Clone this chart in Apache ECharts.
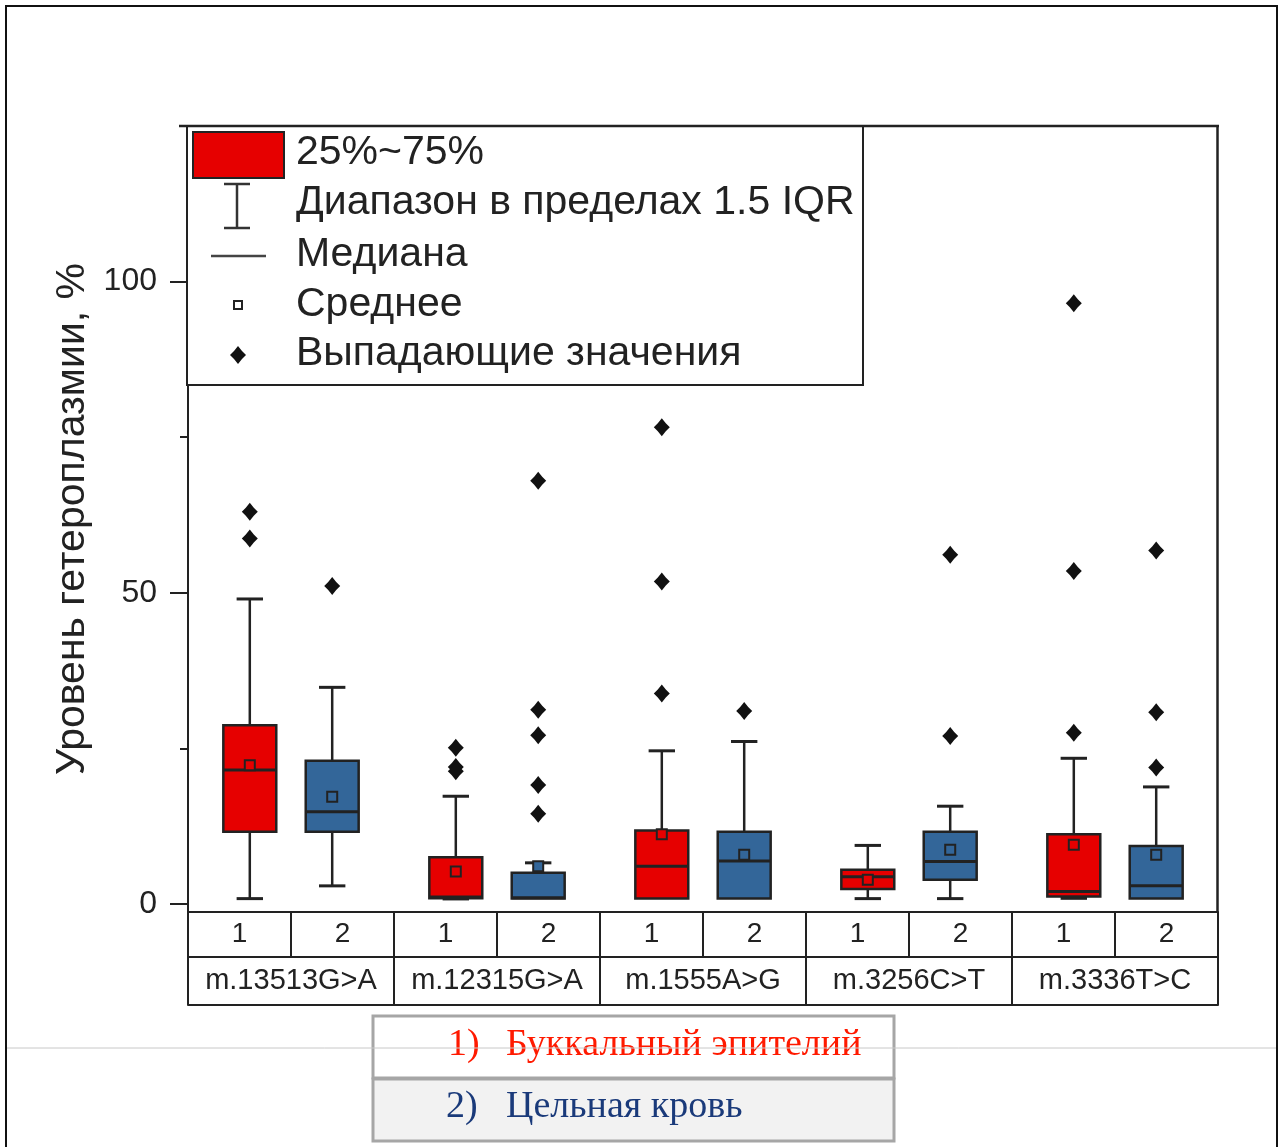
<!DOCTYPE html>
<html>
<head>
<meta charset="utf-8">
<script src="https://cdn.jsdelivr.net/npm/echarts@6/dist/echarts.min.js"></script>
<style>
  html, body { margin: 0; padding: 0; background: #fff; }
  #chart { width: 1284px; height: 1147px; }
</style>
</head>
<body>
<div id="chart"></div>
<script>
// Mutations (x-axis groups) and sample type columns
const genes = ['m.13513G>A', 'm.12315G>A', 'm.1555A>G', 'm.3256C>T', 'm.3336T>C'];
const sampleLabels = ['1', '2'];

// Box statistics per group: [groupIndex, lowerWhisker, Q1, median, Q3, upperWhisker, mean]
const buccalStats = [
  [0, 0.85, 11.6, 21.5, 28.7, 49.0, 22.3],
  [1, 0.8, 0.9, 1.1, 7.5, 17.3, 5.2],
  [2, 0.85, 0.85, 6.05, 11.8, 24.6, 11.2],
  [3, 0.85, 2.4, 4.35, 5.5, 9.4, 3.9],
  [4, 0.9, 1.2, 2.0, 11.2, 23.4, 9.5]
];
const bloodStats = [
  [0, 2.9, 11.6, 14.8, 23.0, 34.8, 17.2],
  [1, 0.85, 0.85, 1.0, 5.0, 6.6, 6.05],
  [2, 0.85, 0.85, 6.9, 11.6, 26.1, 7.9],
  [3, 0.85, 3.9, 6.8, 11.6, 15.7, 8.7],
  [4, 0.85, 0.85, 2.9, 9.3, 18.8, 7.9]
];

// Outliers: [groupIndex, value]
const buccalOutliers = [
  [0, 63.0], [0, 58.7],
  [1, 25.1], [1, 22.0], [1, 21.3],
  [2, 76.6], [2, 51.8], [2, 33.8],
  [4, 96.5], [4, 53.5], [4, 27.5]
];
const bloodOutliers = [
  [0, 51.1],
  [1, 68.0], [1, 31.2], [1, 27.1], [1, 19.1], [1, 14.5],
  [2, 31.0],
  [3, 56.1], [3, 27.0],
  [4, 56.8], [4, 30.8], [4, 21.9]
];

const yMajorTicks = [0, 50, 100];
const yMinorTicks = [25, 75];

const legendLabels = ['25%~75%', 'Диапазон в пределах 1.5 IQR', 'Медиана', 'Среднее', 'Выпадающие значения'];
const sampleNames = ['Буккальный эпителий', 'Цельная кровь'];

const RED = '#e60000';
const BLUE = '#336699';
const INK = '#222222';
const SANS = "'Liberation Sans', Arial, sans-serif";
const SERIF = "'Liberation Serif', 'Times New Roman', serif";

const BOX_FRAC = 0.257;   // box width as a fraction of a group's band
const CAP_FRAC = 0.128;   // whisker cap width
const SHIFT = 0.2;        // offset of each box from the group centre

function boxRenderer(color, side) {
  return function (params, api) {
    const g = api.value(0);
    const band = api.size([1, 0])[0];
    const cx = api.coord([g, 0])[0] + side * SHIFT * band;
    const py = v => api.coord([g, v])[1];
    const half = BOX_FRAC * band / 2;
    const capHalf = CAP_FRAC * band / 2;
    const lo = api.value(1), q1 = api.value(2), med = api.value(3),
          q3 = api.value(4), hi = api.value(5), mean = api.value(6);
    const line = (x1, y1, x2, y2, w) => ({
      type: 'line', shape: { x1, y1, x2, y2 },
      style: { stroke: INK, lineWidth: w || 2.5 }
    });
    const kids = [];
    if (hi > q3) {
      kids.push(line(cx, py(q3), cx, py(hi)));
      kids.push(line(cx - capHalf, py(hi), cx + capHalf, py(hi), 3));
    }
    if (lo < q1 - 0.05) {
      kids.push(line(cx, py(q1), cx, py(lo)));
      kids.push(line(cx - capHalf, py(lo), cx + capHalf, py(lo), 3));
    }
    kids.push({
      type: 'rect',
      shape: { x: cx - half, y: py(q3), width: 2 * half, height: py(q1) - py(q3) },
      style: { fill: color, stroke: INK, lineWidth: 2.5 }
    });
    kids.push(line(cx - half, py(med), cx + half, py(med), 3));
    kids.push({
      type: 'rect',
      shape: { x: cx - 5, y: py(mean) - 5, width: 10, height: 10 },
      style: { fill: color, stroke: INK, lineWidth: 2 }
    });
    return { type: 'group', children: kids };
  };
}

// four-pointed outlier marker
function starPoints(x, y) {
  return [[x, y - 9], [x + 4, y - 4], [x + 8, y], [x + 4, y + 4],
          [x, y + 9], [x - 4, y + 4], [x - 8, y], [x - 4, y - 4]];
}

function outlierRenderer(side) {
  return function (params, api) {
    const g = api.value(0);
    const band = api.size([1, 0])[0];
    const p = api.coord([g, api.value(1)]);
    return {
      type: 'polygon',
      shape: { points: starPoints(p[0] + side * SHIFT * band, p[1]) },
      style: { fill: '#111' }
    };
  };
}

const chart = echarts.init(document.getElementById('chart'));

const cols = [];
genes.forEach(() => sampleLabels.forEach(s => cols.push(s)));

const axisLineStyle = { color: INK, width: 2 };

const legendX = 296;
const legendRows = [153, 203, 255, 305, 354];

const graphics = [
  // page frame
  { type: 'rect', shape: { x: 6, y: 6, width: 1271, height: 1170 },
    style: { fill: 'none', stroke: '#111', lineWidth: 2 }, z: 1 },
  // plot frame: top and right
  { type: 'line', shape: { x1: 179, y1: 126, x2: 1219, y2: 126 },
    style: { stroke: INK, lineWidth: 2.5 }, z: 50 },
  { type: 'line', shape: { x1: 1217.5, y1: 126, x2: 1217.5, y2: 912 },
    style: { stroke: INK, lineWidth: 2.5 }, z: 50 },
  // legend box
  { type: 'rect', shape: { x: 187, y: 126, width: 676, height: 259 },
    style: { fill: '#fff', stroke: INK, lineWidth: 2 }, z: 40 },
  { type: 'rect', shape: { x: 193, y: 132, width: 91, height: 46 },
    style: { fill: RED, stroke: INK, lineWidth: 2 }, z: 41 },
  { type: 'line', shape: { x1: 237, y1: 184, x2: 237, y2: 228 },
    style: { stroke: '#333', lineWidth: 2.5 }, z: 41 },
  { type: 'line', shape: { x1: 224, y1: 184, x2: 250, y2: 184 },
    style: { stroke: '#333', lineWidth: 2.5 }, z: 41 },
  { type: 'line', shape: { x1: 224, y1: 228, x2: 250, y2: 228 },
    style: { stroke: '#333', lineWidth: 2.5 }, z: 41 },
  { type: 'line', shape: { x1: 211, y1: 256, x2: 266, y2: 256 },
    style: { stroke: '#444', lineWidth: 2.5 }, z: 41 },
  { type: 'rect', shape: { x: 234, y: 301, width: 8, height: 8 },
    style: { fill: '#fff', stroke: INK, lineWidth: 2 }, z: 41 },
  { type: 'polygon', shape: { points: starPoints(238, 355) },
    style: { fill: '#111' }, z: 41 },
  // sample type key below the chart
  { type: 'rect', shape: { x: 373, y: 1016, width: 521, height: 62 },
    style: { fill: '#fff', stroke: '#a6a6a6', lineWidth: 3 }, z: 10 },
  { type: 'rect', shape: { x: 373, y: 1079, width: 521, height: 62 },
    style: { fill: '#f2f2f2', stroke: '#a6a6a6', lineWidth: 3 }, z: 10 },
  { type: 'text', x: 448, y: 1045, z: 11,
    style: { text: '1)', font: '38px ' + SERIF, fill: '#ff1a00', verticalAlign: 'middle' } },
  { type: 'text', x: 506, y: 1045, z: 11,
    style: { text: sampleNames[0], font: '38px ' + SERIF, fill: '#ff1a00', verticalAlign: 'middle' } },
  { type: 'text', x: 446, y: 1107, z: 11,
    style: { text: '2)', font: '38px ' + SERIF, fill: '#1a3a7a', verticalAlign: 'middle' } },
  { type: 'text', x: 506, y: 1107, z: 11,
    style: { text: sampleNames[1], font: '38px ' + SERIF, fill: '#1a3a7a', verticalAlign: 'middle' } },
  // thin page rule
  { type: 'line', shape: { x1: 7, y1: 1048, x2: 1276, y2: 1048 },
    style: { stroke: '#c8c8c8', lineWidth: 1 }, z: 20 }
];
legendLabels.forEach((t, i) => {
  graphics.push({
    type: 'text', x: legendX, y: legendRows[i], z: 42,
    style: { text: t, font: '41px ' + SANS, fill: INK, verticalAlign: 'middle' }
  });
});

chart.setOption({
  animation: false,
  backgroundColor: '#fff',
  grid: { left: 188, top: 126, width: 1030, height: 786, containLabel: false },
  xAxis: [
    {
      type: 'category', data: cols, position: 'bottom',
      axisLine: { onZero: false, lineStyle: axisLineStyle },
      axisTick: { show: true, interval: 0, length: 45, lineStyle: axisLineStyle },
      axisLabel: { interval: 0, fontSize: 28, fontFamily: SANS, color: INK,
                   margin: 22, verticalAlign: 'middle' }
    },
    {
      type: 'category', data: genes, position: 'bottom', offset: 45,
      axisLine: { onZero: false, lineStyle: axisLineStyle },
      axisTick: { show: true, interval: 0, length: 48, lineStyle: axisLineStyle },
      axisLabel: { interval: 0, fontSize: 29, fontFamily: SANS, color: INK,
                   margin: 24, verticalAlign: 'middle' }
    },
    {
      type: 'category', data: [''], position: 'bottom', offset: 93,
      axisLine: { onZero: false, lineStyle: axisLineStyle },
      axisTick: { show: false }, axisLabel: { show: false }
    }
  ],
  yAxis: [
    {
      type: 'value', min: -1.3, max: 125,
      name: 'Уровень гетероплазмии, %', nameLocation: 'middle', nameRotate: 90, nameGap: 88,
      nameTextStyle: { fontSize: 41, fontFamily: SANS, color: INK },
      axisLine: { show: true, lineStyle: axisLineStyle },
      axisTick: { show: true, customValues: yMajorTicks, length: 18, lineStyle: axisLineStyle },
      axisLabel: { customValues: yMajorTicks, fontSize: 32, fontFamily: SANS, color: INK, margin: 31 },
      splitLine: { show: false }
    },
    {
      type: 'value', min: -1.3, max: 125, position: 'left',
      axisLine: { show: false },
      axisTick: { show: true, customValues: yMinorTicks, length: 8, lineStyle: axisLineStyle },
      axisLabel: { show: false },
      splitLine: { show: false }
    }
  ],
  series: [
    {
      type: 'custom', name: sampleNames[0], xAxisIndex: 1, yAxisIndex: 0,
      data: buccalStats, encode: { x: 0, y: [1, 2, 3, 4, 5, 6] },
      renderItem: boxRenderer(RED, -1), z: 5
    },
    {
      type: 'custom', name: sampleNames[1], xAxisIndex: 1, yAxisIndex: 0,
      data: bloodStats, encode: { x: 0, y: [1, 2, 3, 4, 5, 6] },
      renderItem: boxRenderer(BLUE, 1), z: 5
    },
    {
      type: 'custom', xAxisIndex: 1, yAxisIndex: 0,
      data: buccalOutliers, encode: { x: 0, y: 1 },
      renderItem: outlierRenderer(-1), z: 6
    },
    {
      type: 'custom', xAxisIndex: 1, yAxisIndex: 0,
      data: bloodOutliers, encode: { x: 0, y: 1 },
      renderItem: outlierRenderer(1), z: 6
    }
  ],
  graphic: graphics
});
</script>
</body>
</html>
